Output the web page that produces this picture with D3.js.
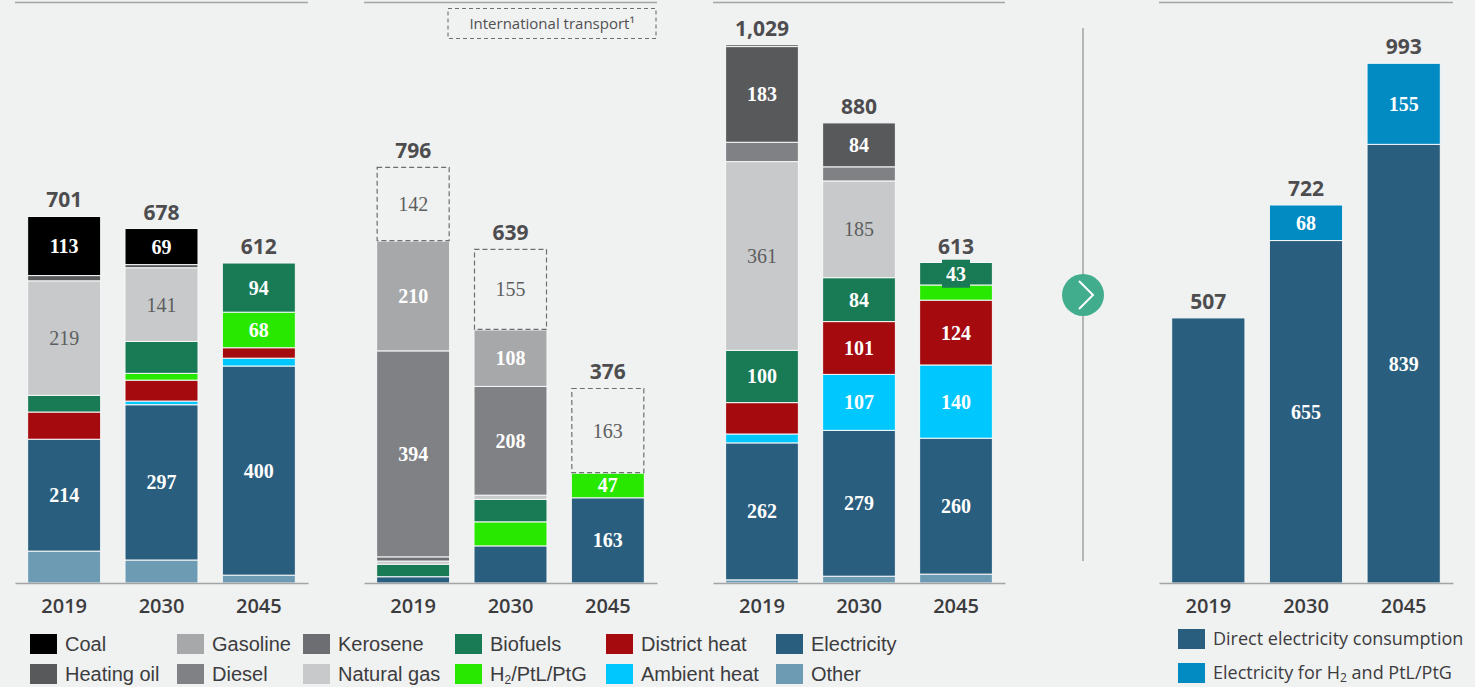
<!DOCTYPE html>
<html>
<head>
<meta charset="utf-8">
<script src="https://cdn.jsdelivr.net/npm/d3@7"></script>
<style>
  html, body { margin: 0; padding: 0; background: #f0f1f1; overflow: hidden; }
  svg { display: block; }
</style>
</head>
<body>
<svg id="chart" width="1475" height="687"></svg>
<script>
// --- data ---
const years = ["2019", "2030", "2045"];

// stacking order, bottom to top
const stackKeys = ["Other", "Electricity", "Ambient heat", "District heat", "H2", "Biofuels",
  "Natural gas", "Kerosene", "Diesel", "Gasoline", "Heating oil", "Coal", "International",
  "Direct", "H2power"];

const industryRows = [
  { year: "2019", Other: 61, Electricity: 214, "District heat": 52, Biofuels: 32, "Natural gas": 219, "Heating oil": 10, Coal: 113 },
  { year: "2030", Other: 44, Electricity: 297, "Ambient heat": 7, "District heat": 40, H2: 13, Biofuels: 61, "Natural gas": 141, "Heating oil": 6, Coal: 69 },
  { year: "2045", Other: 15, Electricity: 400, "Ambient heat": 15, "District heat": 20, H2: 68, Biofuels: 94 }
];
const industryTotals = [701, 678, 612];
const industryLabels = [["Electricity", "Natural gas", "Coal"], ["Electricity", "Natural gas", "Coal"], ["Electricity", "H2", "Biofuels"]];

const transportRows = [
  { year: "2019", Electricity: 12, Biofuels: 24, "Natural gas": 6, Kerosene: 8, Diesel: 394, Gasoline: 210, International: 142 },
  { year: "2030", Electricity: 71, H2: 46, Biofuels: 43, "Natural gas": 8, Diesel: 208, Gasoline: 108, International: 155 },
  { year: "2045", Electricity: 163, H2: 47, International: 163 }
];
const transportTotals = [796, 639, 376];
const transportLabels = [["Diesel", "Gasoline", "International"], ["Diesel", "Gasoline", "International"], ["Electricity", "H2", "International"]];

const buildingRows = [
  { year: "2019", Other: 6, Electricity: 262, "Ambient heat": 17, "District heat": 60, Biofuels: 100, "Natural gas": 361, Diesel: 37, "Heating oil": 183, Coal: 3 },
  { year: "2030", Other: 13, Electricity: 279, "Ambient heat": 107, "District heat": 101, Biofuels: 84, "Natural gas": 185, Diesel: 27, "Heating oil": 84 },
  { year: "2045", Other: 17, Electricity: 260, "Ambient heat": 140, "District heat": 124, H2: 29, Biofuels: 43 }
];
const buildingTotals = [1029, 880, 613];
const buildingLabels = [["Electricity", "Biofuels", "Natural gas", "Heating oil"],
  ["Electricity", "Ambient heat", "District heat", "Biofuels", "Natural gas", "Heating oil"],
  ["Electricity", "Ambient heat", "District heat", "Biofuels"]];

const powerRows = [
  { year: "2019", Direct: 507 },
  { year: "2030", Direct: 655, H2power: 68 },
  { year: "2045", Direct: 839, H2power: 155 }
];
const powerTotals = [507, 722, 993];
const powerLabels = [[], ["Direct", "H2power"], ["Direct", "H2power"]];

const legendRow1 = ["Coal", "Gasoline", "Kerosene", "Biofuels", "District heat", "Electricity"];
const legendRow2 = ["Heating oil", "Diesel", "Natural gas", "H2", "Ambient heat", "Other"];

const colors = {
  "Coal": "#000000",
  "Heating oil": "#58595b",
  "Gasoline": "#a7a8aa",
  "Diesel": "#808184",
  "Kerosene": "#6d6e71",
  "Natural gas": "#c8c9ca",
  "Biofuels": "#197a56",
  "H2": "#29e800",
  "District heat": "#a50a0f",
  "Ambient heat": "#00c8ff",
  "Electricity": "#295e7e",
  "Other": "#6e9bb4",
  "International": "none",
  "Direct": "#295e7e",
  "H2power": "#028ac3"
};
const darkLabelKeys = ["Natural gas", "International"];

// --- layout ---
const svg = d3.select("#chart");
const bg = "#f0f1f1";
svg.append("rect").attr("width", 1475).attr("height", 687).attr("fill", bg);

const y = d3.scaleLinear().domain([0, 1029]).range([583, 45]);
const fmt = d3.format(",");

const panels = [
  { rows: industryRows, totals: industryTotals, labels: industryLabels, range: [15, 308] },
  { rows: transportRows, totals: transportTotals, labels: transportLabels, range: [364, 657] },
  { rows: buildingRows, totals: buildingTotals, labels: buildingLabels, range: [713, 1005] },
  { rows: powerRows, totals: powerTotals, labels: powerLabels, range: [1159, 1453] }
];

const stack = d3.stack().keys(stackKeys).value((d, k) => d[k] || 0);

panels.forEach(p => {
  const x = d3.scaleBand().domain(years).range(p.range).paddingInner(0.25).paddingOuter(0.13);
  const g = svg.append("g");

  // top rule
  g.append("line")
    .attr("x1", p.range[0]).attr("x2", p.range[1])
    .attr("y1", 2.5).attr("y2", 2.5)
    .attr("stroke", "#a3a4a6").attr("stroke-width", 1.5);

  const series = stack(p.rows);
  series.forEach(s => {
    s.forEach((d, i) => {
      const v = d[1] - d[0];
      if (v <= 0) return;
      const key = s.key;
      const x0 = x(d.data.year), w = x.bandwidth();
      const top = y(d[1]), h = y(d[0]) - y(d[1]);
      if (key === "International") {
        g.append("rect")
          .attr("x", x0 + 0.5).attr("y", top + 0.5)
          .attr("width", w - 1).attr("height", h - 1)
          .attr("fill", bg)
          .attr("stroke", "#6d6e71").attr("stroke-width", 1.2)
          .attr("stroke-dasharray", "5,3");
      } else {
        g.append("rect")
          .attr("x", x0).attr("y", top)
          .attr("width", w).attr("height", h)
          .attr("fill", colors[key])
          .attr("stroke", "#f7f8f8").attr("stroke-width", 1);
      }

      if (p.labels[i].includes(key)) {
        const cx = x0 + w / 2, cy = top + h / 2;
        if (h < 23) {
          // small segment: label box sticks out of the bar
          g.append("rect")
            .attr("x", cx - 14).attr("y", cy - 14)
            .attr("width", 28).attr("height", 28)
            .attr("fill", colors[key]);
        }
        g.append("text")
          .attr("x", cx).attr("y", cy)
          .attr("dy", "0.35em")
          .attr("text-anchor", "middle")
          .attr("font-family", "'Liberation Serif', serif")
          .attr("font-weight", darkLabelKeys.includes(key) ? "normal" : "bold")
          .attr("font-size", 20)
          .attr("fill", darkLabelKeys.includes(key) ? "#5d5e60" : "#ffffff")
          .text(fmt(v));
      }
    });
  });

  // totals
  p.rows.forEach((r, i) => {
    const top = d3.min(series, s => y(s[i][1]));
    g.append("text")
      .attr("x", x(r.year) + x.bandwidth() / 2)
      .attr("y", top - 9)
      .attr("text-anchor", "middle")
      .attr("font-family", "'Open Sans', sans-serif")
      .attr("font-weight", "bold")
      .attr("font-size", 21)
      .attr("fill", "#4d4d4f")
      .text(fmt(p.totals[i]));
  });

  // baseline + year axis
  const axis = g.append("g")
    .attr("transform", `translate(0,${y(0)})`)
    .call(d3.axisBottom(x).tickSize(0).tickPadding(16));
  axis.select(".domain").attr("stroke", "#a3a4a6").attr("stroke-width", 1.5);
  axis.selectAll("text")
    .attr("font-family", "'Open Sans', sans-serif")
    .attr("font-size", 20)
    .attr("font-weight", 600)
    .attr("fill", "#3c3c3e");
});

// international transport note
svg.append("rect")
  .attr("x", 448).attr("y", 8.5).attr("width", 208).attr("height", 30)
  .attr("fill", "none").attr("stroke", "#6d6e71").attr("stroke-width", 1.1)
  .attr("stroke-dasharray", "4,3");
svg.append("text")
  .attr("x", 552).attr("y", 23.5).attr("dy", "0.35em")
  .attr("text-anchor", "middle")
  .attr("font-family", "'Open Sans', sans-serif")
  .attr("font-size", 15)
  .attr("fill", "#505052")
  .text("International transport¹");

// divider with arrow
svg.append("line")
  .attr("x1", 1083).attr("x2", 1083).attr("y1", 28).attr("y2", 561)
  .attr("stroke", "#b4b5b6").attr("stroke-width", 2);
svg.append("circle")
  .attr("cx", 1083).attr("cy", 295).attr("r", 21)
  .attr("fill", "#41ad8d");
svg.append("path")
  .attr("d", d3.line()([[1079, 281], [1093, 295], [1079, 309]]))
  .attr("fill", "none").attr("stroke", "#ffffff").attr("stroke-width", 2);

// legend
function legendItem(gx, gy, key, label, font) {
  const item = svg.append("g").attr("transform", `translate(${gx},${gy})`);
  item.append("rect").attr("width", 27).attr("height", 20).attr("fill", colors[key]);
  const t = item.append("text")
    .attr("x", 35).attr("y", 10).attr("dy", "0.36em")
    .attr("font-family", font.family)
    .attr("font-size", font.size)
    .attr("fill", "#3c3c3e");
  label(t);
}

const legendCols = [30, 177, 303, 455, 606, 776];
const narrow = { family: "'Liberation Sans Narrow', 'Arial Narrow', sans-serif", size: 20 };
legendRow1.forEach((k, i) => legendItem(legendCols[i], 634, k, t => t.text(k), narrow));
legendRow2.forEach((k, i) => legendItem(legendCols[i], 664, k, t => {
  if (k === "H2") {
    t.append("tspan").text("H");
    t.append("tspan").attr("font-size", 12).attr("dy", 3).text("2");
    t.append("tspan").attr("dy", -3).text("/PtL/PtG");
  } else {
    t.text(k);
  }
}, narrow));

const plain = { family: "'Open Sans', sans-serif", size: 18 };
legendItem(1178, 629, "Direct", t => t.text("Direct electricity consumption"), plain);
legendItem(1178, 663, "H2power", t => {
  t.append("tspan").text("Electricity for H");
  t.append("tspan").attr("font-size", 12).attr("dy", 3).text("2");
  t.append("tspan").attr("dy", -3).text(" and PtL/PtG");
}, plain);
</script>
</body>
</html>
